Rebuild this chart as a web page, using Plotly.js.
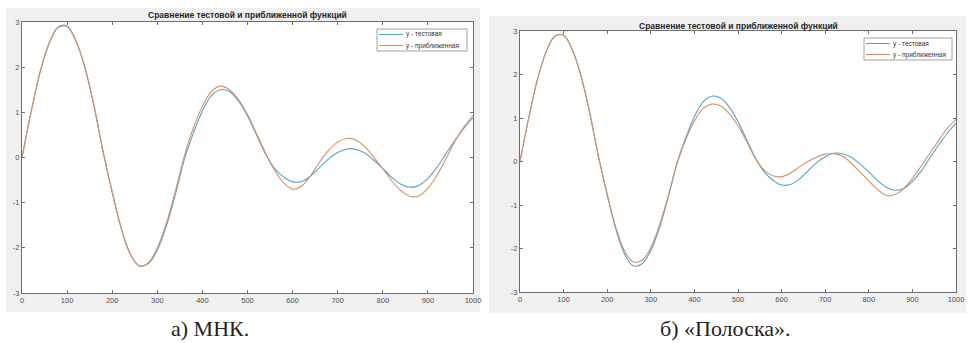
<!DOCTYPE html>
<html>
<head>
<meta charset="utf-8">
<script src="https://cdn.plot.ly/plotly-3.0.1.min.js"></script>
<style>
  html, body { margin: 0; padding: 0; background: #ffffff; }
  #chart { width: 972px; height: 343px; }
</style>
</head>
<body>
<div id="chart"></div>
<script>
// ---- data ----
const xValues = [0,20,40,60,80,100,120,140,160,180,200,220,240,260,280,300,320,340,360,380,400,420,440,460,480,500,520,540,560,580,600,620,640,660,680,700,720,740,760,780,800,820,840,860,880,900,920,940,960,980,1000];

const yTest = [0,1.00,1.88,2.52,2.88,2.90,2.57,1.97,1.12,0.12,-0.77,-1.56,-2.13,-2.40,-2.35,-2.05,-1.52,-0.82,-0.04,0.54,1.03,1.37,1.50,1.46,1.25,0.92,0.50,0.08,-0.24,-0.43,-0.54,-0.53,-0.41,-0.22,-0.03,0.11,0.19,0.18,0.10,-0.06,-0.24,-0.44,-0.59,-0.66,-0.62,-0.46,-0.22,0.08,0.38,0.65,0.88];

const yApproxLsq = [0,1.00,1.89,2.53,2.89,2.91,2.58,1.98,1.13,0.12,-0.76,-1.57,-2.14,-2.40,-2.33,-2.00,-1.46,-0.75,0.03,0.66,1.13,1.46,1.58,1.50,1.28,0.95,0.53,0.10,-0.28,-0.56,-0.70,-0.63,-0.40,-0.10,0.16,0.34,0.42,0.39,0.24,0.01,-0.25,-0.52,-0.73,-0.86,-0.85,-0.68,-0.40,-0.03,0.36,0.68,0.93];

const yApproxStrip = [0,1.00,1.88,2.52,2.88,2.90,2.57,1.96,1.11,0.11,-0.75,-1.52,-2.06,-2.31,-2.27,-1.98,-1.46,-0.79,-0.06,0.50,0.93,1.22,1.32,1.28,1.10,0.82,0.46,0.07,-0.20,-0.33,-0.35,-0.27,-0.13,0.00,0.10,0.17,0.18,0.12,-0.04,-0.24,-0.45,-0.64,-0.78,-0.76,-0.62,-0.39,-0.11,0.19,0.48,0.76,0.97];

const seriesNames = ["y - тестовая", "y - приближенная"];
const chartTitle = "Сравнение тестовой и приближенной функций";
const captions = ["а) МНК.", "б) «Полоска»."];
const xTickVals = [0,100,200,300,400,500,600,700,800,900,1000];
const xTickLabels = ["0","100","200","300","400","500","600","700","800","900","1000"];
const yTickVals = [-3,-2,-1,0,1,2,3];
const yTickLabels = ["-3","-2","-1","0","1","2","3"];

// ---- styling / layout helpers ----
const W = 972, H = 343;
const px = v => v / W;
const py = v => 1 - v / H;
const BLUE = "#55a3c6";
const ORANGE = "#d98f62";
const FIG_GRAY = "#f0f0f0";
const AXIS_COLOR = "#6e6e6e";
const TICK_FONT = { family: "Liberation Sans, Arial, sans-serif", size: 7.5, color: "#505050" };

function axisX(domain, anchor) {
  return {
    domain: domain, anchor: anchor, range: [0, 1000],
    tickmode: "array", tickvals: xTickVals, ticktext: xTickLabels,
    ticks: "inside", ticklen: 3, tickcolor: AXIS_COLOR, tickwidth: 1,
    showline: true, linecolor: AXIS_COLOR, linewidth: 1, mirror: "ticks",
    showgrid: false, zeroline: false, tickfont: TICK_FONT, fixedrange: true
  };
}
function axisY(domain, anchor) {
  return {
    domain: domain, anchor: anchor, range: [-3, 3],
    tickmode: "array", tickvals: yTickVals, ticktext: yTickLabels,
    ticks: "inside", ticklen: 3, tickcolor: AXIS_COLOR, tickwidth: 1,
    showline: true, linecolor: AXIS_COLOR, linewidth: 1, mirror: "ticks",
    showgrid: false, zeroline: false, tickfont: TICK_FONT, fixedrange: true
  };
}

const traces = [
  { x: xValues, y: yTest, name: seriesNames[0], type: "scatter", mode: "lines",
    line: { color: BLUE, width: 1.1, shape: "spline", smoothing: 1 }, xaxis: "x", yaxis: "y" },
  { x: xValues, y: yApproxLsq, name: seriesNames[1], type: "scatter", mode: "lines",
    line: { color: ORANGE, width: 1.1, shape: "spline", smoothing: 1 }, xaxis: "x", yaxis: "y" },
  { x: xValues, y: yTest, name: seriesNames[0], type: "scatter", mode: "lines",
    line: { color: BLUE, width: 1.1, shape: "spline", smoothing: 1 }, xaxis: "x2", yaxis: "y2" },
  { x: xValues, y: yApproxStrip, name: seriesNames[1], type: "scatter", mode: "lines",
    line: { color: ORANGE, width: 1.1, shape: "spline", smoothing: 1 }, xaxis: "x2", yaxis: "y2" }
];

// panel geometry in pixels
const panels = [
  { fig: [6, 8, 480, 312], plot: [22, 22, 473, 293], legend: [377, 29, 467, 51], titleY: 15, capX: 210 },
  { fig: [489, 16, 966, 313], plot: [520, 31, 956, 292], legend: [864, 38, 952, 60], titleY: 26, capX: 725 }
];

const shapes = [];
const annotations = [];
panels.forEach((p, i) => {
  // gray figure background
  shapes.push({ type: "rect", xref: "paper", yref: "paper", layer: "below",
    x0: px(p.fig[0]), x1: px(p.fig[2]), y0: py(p.fig[3]), y1: py(p.fig[1]),
    fillcolor: FIG_GRAY, line: { width: 0 } });
  // white axes background
  shapes.push({ type: "rect", xref: "paper", yref: "paper", layer: "below",
    x0: px(p.plot[0]), x1: px(p.plot[2]), y0: py(p.plot[3]), y1: py(p.plot[1]),
    fillcolor: "#ffffff", line: { width: 0 } });
  // legend box
  const L = p.legend;
  shapes.push({ type: "rect", xref: "paper", yref: "paper", layer: "above",
    x0: px(L[0]), x1: px(L[2]), y0: py(L[3]), y1: py(L[1]),
    fillcolor: "#ffffff", line: { color: "#8a8a8a", width: 0.8 } });
  const rowH = (L[3] - L[1]) / 2;
  [BLUE, ORANGE].forEach((c, k) => {
    const yy = L[1] + rowH * (k + 0.5);
    shapes.push({ type: "line", xref: "paper", yref: "paper", layer: "above",
      x0: px(L[0] + 2), x1: px(L[0] + 26), y0: py(yy), y1: py(yy),
      line: { color: c, width: 1.1 } });
    annotations.push({ xref: "paper", yref: "paper", x: px(L[0] + 27), y: py(yy),
      xanchor: "left", yanchor: "middle", showarrow: false, text: seriesNames[k],
      font: { family: "Liberation Sans, Arial, sans-serif", size: 6.5, color: "#333333" } });
  });
  // title
  annotations.push({ xref: "paper", yref: "paper", x: px((p.plot[0] + p.plot[2]) / 2), y: py(p.titleY),
    xanchor: "center", yanchor: "middle", showarrow: false, text: "<b>" + chartTitle + "</b>",
    font: { family: "Liberation Sans, Arial, sans-serif", size: 8.5, color: "#262626" } });
  // caption
  annotations.push({ xref: "paper", yref: "paper", x: px(p.capX), y: py(342),
    xanchor: "center", yanchor: "bottom", showarrow: false, borderpad: 0, text: captions[i],
    font: { family: "Liberation Serif, DejaVu Serif, serif", size: 22, color: "#231f20" } });
});

const layout = {
  width: W, height: H,
  margin: { l: 0, r: 0, t: 0, b: 0, pad: 0 },
  paper_bgcolor: "#ffffff",
  plot_bgcolor: "rgba(0,0,0,0)",
  showlegend: false,
  xaxis: axisX([px(panels[0].plot[0]), px(panels[0].plot[2])], "y"),
  yaxis: axisY([py(panels[0].plot[3]), py(panels[0].plot[1])], "x"),
  xaxis2: axisX([px(panels[1].plot[0]), px(panels[1].plot[2])], "y2"),
  yaxis2: axisY([py(panels[1].plot[3]), py(panels[1].plot[1])], "x2"),
  shapes: shapes,
  annotations: annotations
};

Plotly.newPlot("chart", traces, layout, { displayModeBar: false, staticPlot: true });
</script>
</body>
</html>
